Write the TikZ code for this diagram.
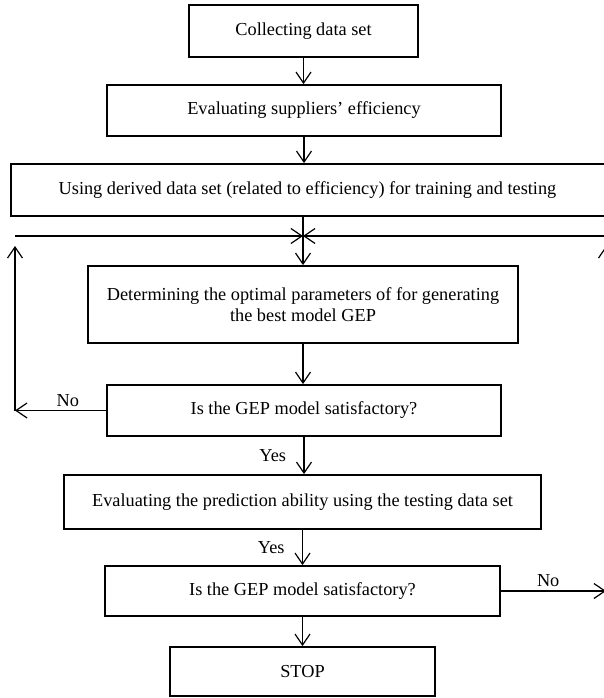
\documentclass[tikz,border=0pt]{standalone}
\usepackage{fontspec}
\setmainfont{Liberation Serif}
\usetikzlibrary{arrows.meta}

\begin{document}
\begin{tikzpicture}[x=1pt,y=-1pt,font=\fontsize{18.3}{21.5}\selectfont,
    box/.style={draw,line width=1.8pt,inner sep=0pt,align=center},
    flow/.style={line width=1.2pt,-{Straight Barb[length=11pt,width=15pt,line width=1.2pt]}}]
    \useasboundingbox (0,0) rectangle (604,698);

    \node[box,minimum width=229pt,minimum height=52pt] (collect) at (303.5,31) {Collecting data set};
    \node[box,minimum width=394pt,minimum height=51pt] (evalsup) at (304,110.5) {Evaluating suppliers' efficiency};
    \node[box,minimum width=603pt,minimum height=52pt] (data) at (312.5,190) {\hspace*{-10pt}Using derived data set (related to efficiency) for training and testing};
    \node[box,minimum width=430pt,minimum height=77pt] (params) at (303,304.5) {Determining the optimal parameters of for generating\\the best model GEP};
    \node[box,minimum width=394pt,minimum height=51pt] (ok1) at (304,410.5) {Is the GEP model satisfactory?};
    \node[box,minimum width=477pt,minimum height=54pt] (test) at (302.5,502) {Evaluating the prediction ability using the testing data set};
    \node[box,minimum width=395pt,minimum height=50pt] (ok2) at (302.5,591) {Is the GEP model satisfactory?};
    \node[box,minimum width=265pt,minimum height=49pt] (stop) at (302.5,671.5) {STOP};

    \coordinate (join) at (params.north |- 0,236);
    \coordinate (leftTop) at (15,236);
    \coordinate (leftCorner) at (leftTop |- ok1.west);
    \coordinate (leftArrow) at (15,246);
    \coordinate (rightTop) at (606,236);
    \coordinate (rightCorner) at (rightTop |- ok2.east);
    \coordinate (rightArrow) at (606,246);

    \draw[flow] (collect.south) -- (collect.south |- evalsup.north);
    \draw[flow] (evalsup.south) -- (evalsup.south |- data.north);
    \draw[flow] (params.north |- data.south) -- (params.north);
    \draw[flow] (params.south) -- (params.south |- ok1.north);
    \draw[flow] (ok1.south) -- (ok1.south |- test.north) node[midway,left=14pt] {Yes};
    \draw[flow] (test.south) -- (test.south |- ok2.north) node[midway,left=14pt] {Yes};
    \draw[flow] (ok2.south) -- (ok2.south |- stop.north);

    % loop back on the left
    \draw[flow] (ok1.west) -- (leftCorner) node[pos=0.42,above] {No};
    \draw[flow] (leftCorner) -- (leftArrow);
    \draw[flow] (leftTop) -- (join);

    % loop back on the right
    \draw[flow] (ok2.east) -- (rightCorner) node[pos=0.45,above] {No};
    \draw[flow] (rightCorner) -- (rightArrow);
    \draw[flow] (rightTop) -- (join);
\end{tikzpicture}
\end{document}
